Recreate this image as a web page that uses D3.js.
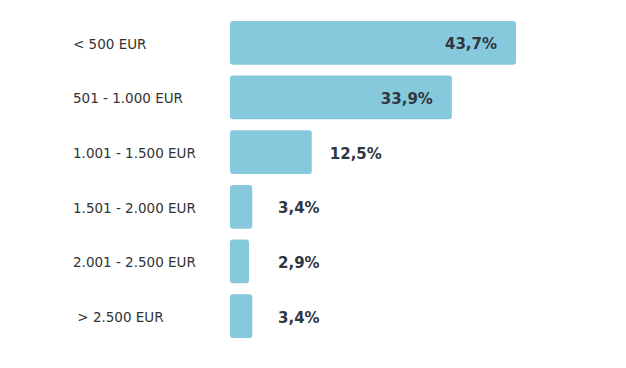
<!DOCTYPE html>
<html><head><meta charset="utf-8">
<script src="https://cdn.jsdelivr.net/npm/d3@7"></script>
<style>body{margin:0;background:#fff}</style>
</head><body>
<svg id="c" width="626" height="368"></svg>
<script>
const categories = ["< 500 EUR", "501 - 1.000 EUR", "1.001 - 1.500 EUR", "1.501 - 2.000 EUR", "2.001 - 2.500 EUR", " > 2.500 EUR"];
const values = [43.7, 33.9, 12.5, 3.4, 2.9, 3.4];
const valueLabels = ["43,7%", "33,9%", "12,5%", "3,4%", "2,9%", "3,4%"];

const svg = d3.select("#c");
const x = d3.scaleLinear().domain([0, 43.7]).range([230, 516]);
const y = d3.scaleBand().domain(categories).range([15.5, 343.4]).paddingInner(0.2).paddingOuter(0.1);
const data = categories.map((c, i) => ({c, v: values[i], l: valueLabels[i]}));

svg.selectAll("rect.bar").data(data).join("rect")
  .attr("class", "bar")
  .attr("x", x(0)).attr("y", d => y(d.c))
  .attr("width", d => x(d.v) - x(0)).attr("height", y.bandwidth())
  .attr("rx", 3).attr("fill", "#86c9dc");

svg.selectAll("text.cat").data(data).join("text")
  .attr("class", "cat")
  .attr("x", 73).attr("y", d => y(d.c) + y.bandwidth() / 2 + 2)
  .attr("dominant-baseline", "middle")
  .attr("font-family", "DejaVu Sans, sans-serif").attr("font-size", 13.5)
  .attr("fill", "#333").style("white-space", "pre")
  .text(d => d.c);

svg.selectAll("text.val").data(data).join("text")
  .attr("class", "val")
  .attr("x", d => d.v > 20 ? x(d.v) - 19 : Math.max(x(d.v) + 18, 278))
  .attr("text-anchor", d => d.v > 20 ? "end" : "start")
  .attr("y", d => y(d.c) + y.bandwidth() / 2 + 2)
  .attr("dominant-baseline", "middle")
  .attr("font-family", "DejaVu Sans, sans-serif").attr("font-weight", 700).attr("font-size", 15)
  .attr("fill", "#2f3742")
  .text(d => d.l);
</script>
</body></html>
